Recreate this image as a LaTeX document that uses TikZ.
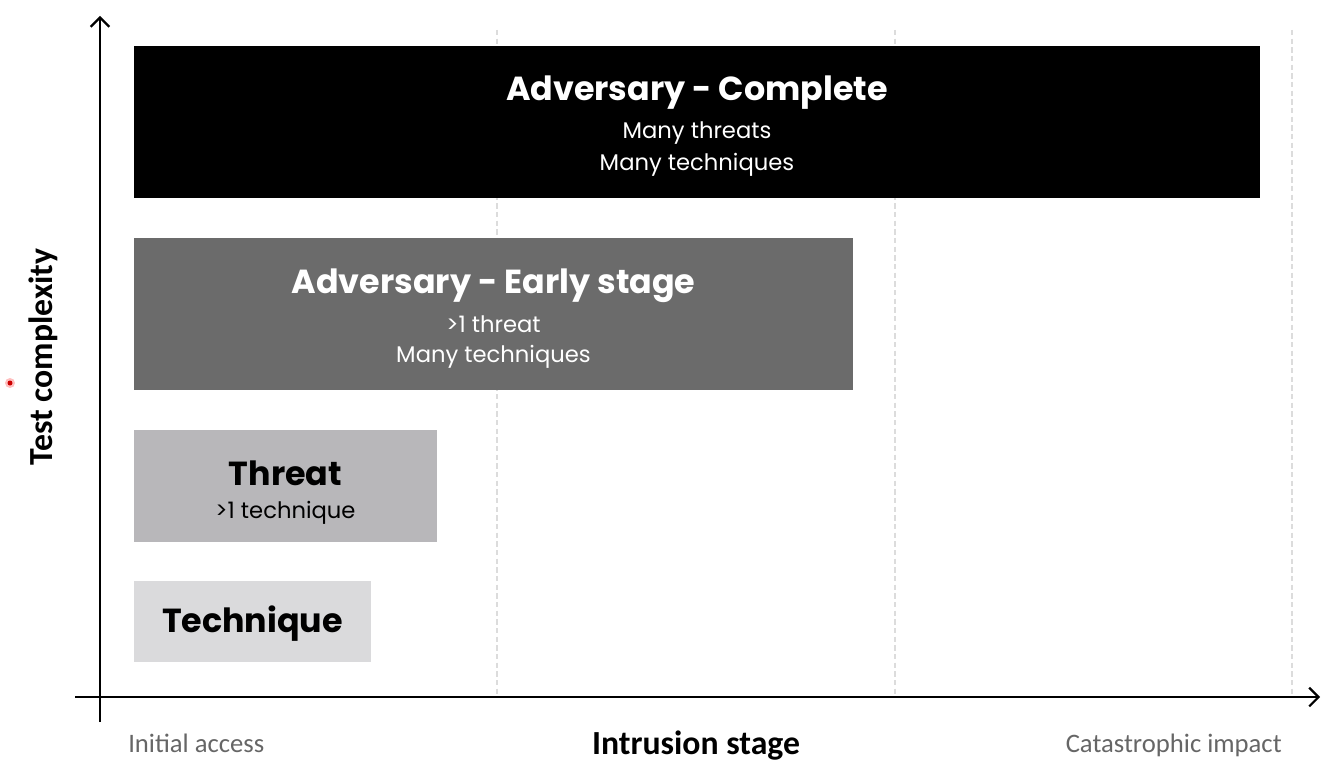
\documentclass[tikz,border=0pt]{standalone}
\usepackage{fontspec}
\setmainfont{Poppins}
\newfontfamily\axisfont{Carlito}
\usetikzlibrary{arrows.meta, positioning}

\definecolor{earlygray}{HTML}{6B6B6B}
\definecolor{threatgray}{HTML}{B8B7BA}
\definecolor{techgray}{HTML}{DADADC}
\definecolor{gridgray}{HTML}{DCDCDC}
\definecolor{labelgray}{HTML}{666666}

\begin{document}
\begin{tikzpicture}[x=0.75pt, y=-0.75pt,
    stagebox/.style={rectangle, anchor=north west, inner sep=0pt, draw=none},
    boxtitle/.style={font=\fontsize{25pt}{30pt}\selectfont\bfseries, inner sep=0pt},
    boxline/.style={font=\fontsize{17pt}{24pt}\selectfont, inner sep=0pt},
    axislabel/.style={font=\axisfont\fontsize{20pt}{24pt}\selectfont, text=labelgray, inner sep=0pt},
    axistitle/.style={font=\axisfont\fontsize{25.3pt}{30pt}\selectfont\bfseries, inner sep=0pt},
    axisline/.style={line width=1.6pt, -{Straight Barb[length=7pt, width=14pt, line width=1.6pt]}}]
    \useasboundingbox (0,0) rectangle (1335,770);

    % Grid lines for the stages
    \foreach \gx in {497, 895, 1292}
        \draw[gridgray, dash pattern=on 4pt off 2.5pt, line width=0.9pt] (\gx,30) -- (\gx,695);

    % Axes
    \coordinate (yfoot) at (100,722);
    \coordinate (ytip) at (100,16);
    \coordinate (xfoot) at (75,697);
    \coordinate (xtip) at (1320,697);
    \draw[axisline] (yfoot) -- (ytip);
    \draw[axisline] (xfoot) -- (xtip);

    % Stage boxes
    \node[stagebox, fill=black, minimum width=844.5pt, minimum height=114pt] (complete) at (134,46) {};
    \node[stagebox, fill=earlygray, minimum width=539.25pt, minimum height=114pt] (early) at (134,238) {};
    \node[stagebox, fill=threatgray, minimum width=227.25pt, minimum height=84pt] (threat) at (134,430) {};
    \node[stagebox, fill=techgray, minimum width=177.75pt, minimum height=60.75pt] (technique) at (134,581) {};

    % Box texts
    \node[boxtitle, text=white] (completeT) at (697,93) {Adversary - Complete};
    \node[boxline, text=white] (completeA) at (697,133) {Many threats};
    \node[boxline, text=white] (completeB) at (697,165) {Many techniques};

    \node[boxtitle, text=white] (earlyT) at (493.5,286) {Adversary - Early stage};
    \node[boxline, text=white] (earlyA) at (493.5,324) {>1 threat};
    \node[boxline, text=white] (earlyB) at (493.5,357) {Many techniques};

    \node[boxtitle, text=black] (threatT) at (285.5,473) {Threat};
    \node[boxline, text=black] (threatA) at (285.5,513) {>1 technique};

    \node[boxtitle, text=black] (techniqueT) at (252.5,624) {Technique};

    % Axis labels
    \node[axislabel, anchor=west] (startL) at (128,743) {Initial access};
    \node[axistitle] (xL) at (696,746) {Intrusion stage};
    \node[axislabel, anchor=east] (endL) at (1282,745) {Catastrophic impact};
    \node[axistitle, rotate=90] (yL) at (43,357) {Test complexity};

    % Pointer dot
    \fill[red!25] (10,383) circle (5);
    \fill[red!80!black] (10,383) circle (2.5);
\end{tikzpicture}
\end{document}
